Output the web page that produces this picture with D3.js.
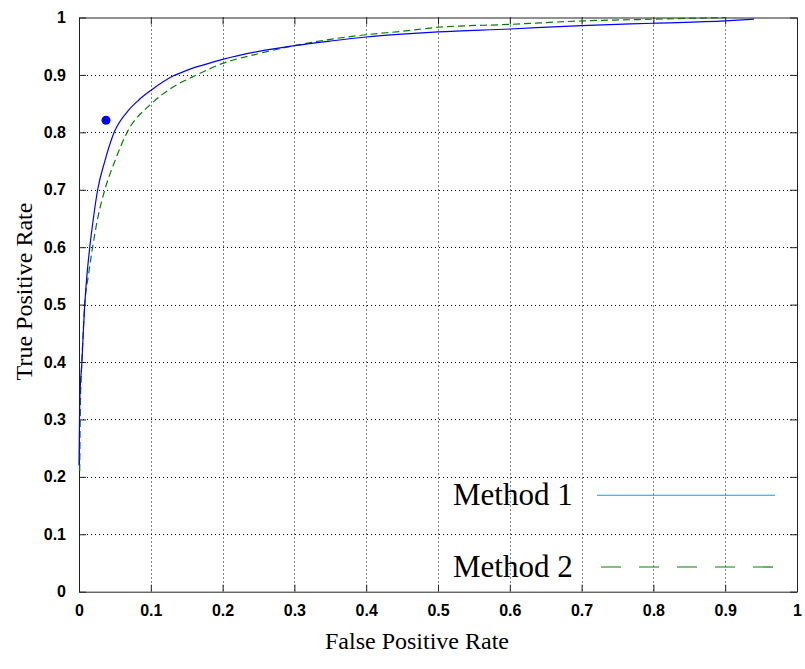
<!DOCTYPE html>
<html>
<head>
<meta charset="utf-8">
<script src="https://cdn.jsdelivr.net/npm/d3@7"></script>
<style>
  body { margin: 0; background: #fff; }
  .tick text { font-family: "Liberation Sans", Arial, sans-serif; font-weight: bold; font-size: 16px; fill: #000; }
  .title { font-family: "Liberation Serif", "Times New Roman", serif; fill: #000; }
</style>
</head>
<body>
<svg id="chart" width="805" height="669"></svg>
<script>
// ROC curve of method 1 (FPR, TPR)
const fpr1 = [0, 0.001, 0.004, 0.008, 0.011, 0.015, 0.020, 0.026, 0.036, 0.049, 0.068, 0.083, 0.1, 0.131, 0.15, 0.175, 0.2, 0.25, 0.3, 0.35, 0.4, 0.45, 0.5, 0.6, 0.7, 0.8, 0.9, 0.94]
const tpr1 = [0.22, 0.33, 0.40, 0.50, 0.55, 0.60, 0.65, 0.70, 0.75, 0.80, 0.837, 0.856, 0.873, 0.898, 0.908, 0.918, 0.927, 0.941, 0.951, 0.959, 0.966, 0.971, 0.975, 0.980, 0.986, 0.990, 0.994, 0.997]

// ROC curve of method 2
const fpr2 = [0.001, 0.002, 0.004, 0.008, 0.013, 0.019, 0.026, 0.036, 0.050, 0.067, 0.1, 0.13, 0.164, 0.2, 0.25, 0.3, 0.35, 0.4, 0.45, 0.5, 0.6, 0.7, 0.8, 0.9]
const tpr2 = [0.21, 0.33, 0.40, 0.50, 0.55, 0.60, 0.65, 0.70, 0.75, 0.80, 0.849, 0.878, 0.90, 0.920, 0.937, 0.951, 0.962, 0.970, 0.976, 0.983, 0.988, 0.994, 0.997, 1.0]

// single operating point
const pointFpr = [0.0376]
const pointTpr = [0.821]

const seriesNames = ['Method 1', 'Method 2']
const tickValues = [0, 0.1, 0.2, 0.3, 0.4, 0.5, 0.6, 0.7, 0.8, 0.9, 1]

const pLeft = 79, pRight = 797, pTop = 17.5, pBottom = 591.7

const svg = d3.select('#chart')

const x = d3.scaleLinear().domain([0, 1]).range([pLeft, pRight])
const y = d3.scaleLinear().domain([0, 1]).range([pBottom, pTop])

const fmt = d => d === 0 ? '0' : d === 1 ? '1' : d3.format('.1f')(d)

// grid
const grid = svg.append('g')
  .attr('stroke', '#000')
  .attr('stroke-width', 1)
  .attr('stroke-dasharray', '1,3')
grid.selectAll('.gx')
  .data(tickValues.slice(1, -1))
  .enter()
  .append('line')
  .attr('x1', d => Math.round(x(d)) + 0.5)
  .attr('x2', d => Math.round(x(d)) + 0.5)
  .attr('y1', pTop)
  .attr('y2', pBottom)
grid.selectAll('.gy')
  .data(tickValues.slice(1, -1))
  .enter()
  .append('line')
  .attr('y1', d => Math.round(y(d)) + 0.5)
  .attr('y2', d => Math.round(y(d)) + 0.5)
  .attr('x1', pLeft)
  .attr('x2', pRight)

// axes (ticks point inward like matlab)
const xAxis = d3.axisBottom(x).tickValues(tickValues).tickFormat(fmt).tickSizeInner(-7).tickSizeOuter(0).tickPadding(13)
const yAxis = d3.axisLeft(y).tickValues(tickValues).tickFormat(fmt).tickSizeInner(-7).tickSizeOuter(0).tickPadding(13)

svg.append('g')
  .attr('transform', 'translate(0,' + pBottom + ')')
  .call(xAxis)
svg.append('g')
  .attr('transform', 'translate(' + pLeft + ',0)')
  .call(yAxis)
svg.append('g')
  .attr('transform', 'translate(0,' + pTop + ')')
  .call(d3.axisTop(x).tickValues(tickValues).tickFormat('').tickSizeInner(-7).tickSizeOuter(0))
svg.append('g')
  .attr('transform', 'translate(' + pRight + ',0)')
  .call(d3.axisRight(y).tickValues(tickValues).tickFormat('').tickSizeInner(-7).tickSizeOuter(0))

svg.selectAll('.domain').attr('stroke', '#222')
svg.selectAll('.tick line').attr('stroke', '#222')

// curves
const line = d3.line()
  .x(d => x(d[0]))
  .y(d => y(d[1]))
  .curve(d3.curveMonotoneX)

svg.append('path')
  .datum(fpr2.map((d, i) => [d, tpr2[i]]))
  .attr('d', line)
  .attr('fill', 'none')
  .attr('stroke', '#008000')
  .attr('stroke-width', 1.2)
  .attr('stroke-dasharray', '7,4')

svg.append('path')
  .datum(fpr1.map((d, i) => [d, tpr1[i]]))
  .attr('d', line)
  .attr('fill', 'none')
  .attr('stroke', '#0000ff')
  .attr('stroke-width', 1.2)

svg.selectAll('.pt')
  .data(pointFpr)
  .enter()
  .append('circle')
  .attr('cx', d => x(d))
  .attr('cy', (d, i) => y(pointTpr[i]))
  .attr('r', 4.5)
  .attr('fill', '#0000ff')

// legend
const legendY = [0.168, 0.043]
const legendColor = ['#0a9cf5', '#008000']
const legendDash = [null, '20,18']
const leg = svg.selectAll('.leg')
  .data(seriesNames)
  .enter()
  .append('g')
leg.append('text')
  .attr('class', 'title')
  .attr('x', 453)
  .attr('y', (d, i) => y(legendY[i]) + 10)
  .style('font-size', '31px')
  .text(d => d)
leg.append('line')
  .attr('x1', (d, i) => i === 0 ? 597 : 601)
  .attr('x2', 775)
  .attr('y1', (d, i) => y(legendY[i]))
  .attr('y2', (d, i) => y(legendY[i]))
  .attr('stroke', (d, i) => legendColor[i])
  .attr('stroke-width', 1.2)
  .attr('stroke-dasharray', (d, i) => legendDash[i])

// axis titles
svg.append('text')
  .attr('class', 'title')
  .attr('x', 325)
  .attr('y', 649)
  .style('font-size', '24px')
  .text('False Positive Rate')

svg.append('text')
  .attr('class', 'title')
  .attr('transform', 'translate(32,291.5) rotate(-90)')
  .attr('text-anchor', 'middle')
  .style('font-size', '24px')
  .text('True Positive Rate')
</script>
</body>
</html>
